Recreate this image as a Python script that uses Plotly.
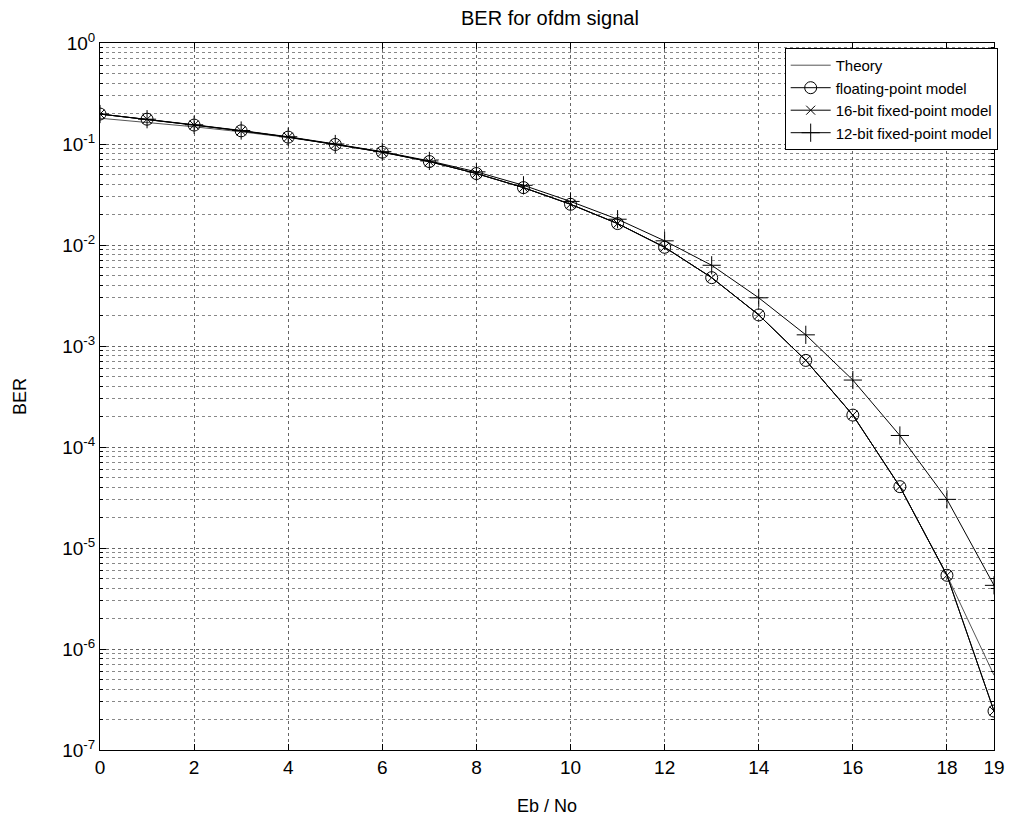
import plotly.graph_objects as go

ebno = list(range(20))
theory = [0.180, 0.164, 0.148, 0.132, 0.116, 0.099, 0.083, 0.067, 0.051, 0.037,
          0.0253, 0.0163, 0.0095, 0.00475, 0.00203, 7.2e-4, 2.07e-4, 4.05e-5, 5.37e-6, 5.5e-7]
floating = [0.198, 0.176, 0.154, 0.135, 0.117, 0.099, 0.083, 0.067, 0.051, 0.037,
            0.0253, 0.0163, 0.0095, 0.00475, 0.00203, 7.2e-4, 2.07e-4, 4.05e-5, 5.37e-6, 2.43e-7]
fixed16 = [0.198, 0.176, 0.154, 0.135, 0.117, 0.099, 0.083, 0.067, 0.051, 0.037,
           0.0253, 0.0163, 0.0095, 0.00475, 0.00203, 7.2e-4, 2.07e-4, 4.05e-5, 5.37e-6, 2.43e-7]
fixed12 = [0.198, 0.176, 0.155, 0.136, 0.118, 0.100, 0.084, 0.068, 0.053, 0.039,
           0.027, 0.018, 0.011, 0.0063, 0.0030, 1.29e-3, 4.6e-4, 1.3e-4, 3.03e-5, 4.27e-6]

xticks = [0, 2, 4, 6, 8, 10, 12, 14, 16, 18, 19]
yticks = [1e-7, 1e-6, 1e-5, 1e-4, 1e-3, 1e-2, 1e-1, 1e0]
yticktext = ["10<sup>-7</sup>", "10<sup>-6</sup>", "10<sup>-5</sup>", "10<sup>-4</sup>",
             "10<sup>-3</sup>", "10<sup>-2</sup>", "10<sup>-1</sup>", "10<sup>0</sup>"]

FONT = "Liberation Sans, Arial, sans-serif"

fig = go.Figure()
fig.add_trace(go.Scatter(x=ebno, y=theory, mode="lines", name="Theory",
                         line=dict(color="#555555", width=1)))
fig.add_trace(go.Scatter(x=ebno, y=floating, mode="lines+markers", name="floating-point model",
                         line=dict(color="black", width=1),
                         marker=dict(symbol="circle-open", size=12, color="black", line=dict(width=1))))
fig.add_trace(go.Scatter(x=ebno, y=fixed16, mode="lines+markers", name="16-bit fixed-point model",
                         line=dict(color="black", width=1),
                         marker=dict(symbol="x-thin-open", size=9, color="black", line=dict(width=1))))
fig.add_trace(go.Scatter(x=ebno, y=fixed12, mode="lines+markers", name="12-bit fixed-point model",
                         line=dict(color="black", width=1),
                         marker=dict(symbol="cross-thin-open", size=13, color="black", line=dict(width=1))))

fig.update_layout(
    width=1009, height=821,
    margin=dict(l=100, r=14, t=43, b=71),
    paper_bgcolor="white", plot_bgcolor="white",
    font=dict(family=FONT, color="black", size=18),
    title=dict(text="BER for ofdm signal", x=0.545, xanchor="center", y=0.978, yanchor="middle",
               font=dict(family=FONT, size=20, color="black")),
    showlegend=True,
    legend=dict(x=1.003, xanchor="right", y=0.993, yanchor="top",
                bgcolor="white", bordercolor="black", borderwidth=1,
                font=dict(family=FONT, size=15, color="black"),
                itemwidth=40, tracegroupgap=0),
)

fig.update_xaxes(
    range=[0, 19], tickvals=xticks, ticktext=[str(v) for v in xticks],
    showline=True, linecolor="black", linewidth=1, mirror="allticks",
    ticks="inside", ticklen=6, tickcolor="black",
    showgrid=True, gridcolor="#666666", griddash="dot", gridwidth=1,
    zeroline=False, tickfont=dict(size=19), automargin=False,
    title=dict(text="Eb / No", font=dict(size=18), standoff=22),
)
fig.update_yaxes(
    type="log", range=[-7, 0], tickvals=yticks, ticktext=yticktext,
    showline=True, linecolor="black", linewidth=1, mirror="allticks",
    ticks="inside", ticklen=6, tickcolor="black",
    showgrid=True, gridcolor="#666666", griddash="dot", gridwidth=1,
    minor=dict(dtick="D1", ticks="inside", ticklen=3, tickcolor="black",
               showgrid=True, gridcolor="#888888", griddash="dot", gridwidth=1),
    zeroline=False, tickfont=dict(size=19), automargin=False,
    title=dict(text="BER", font=dict(size=18), standoff=30),
)

fig.write_html(
    "out.html",
    config={"displayModeBar": False},
    post_script="document.body.style.margin='0';document.body.style.overflow='hidden';",
)
